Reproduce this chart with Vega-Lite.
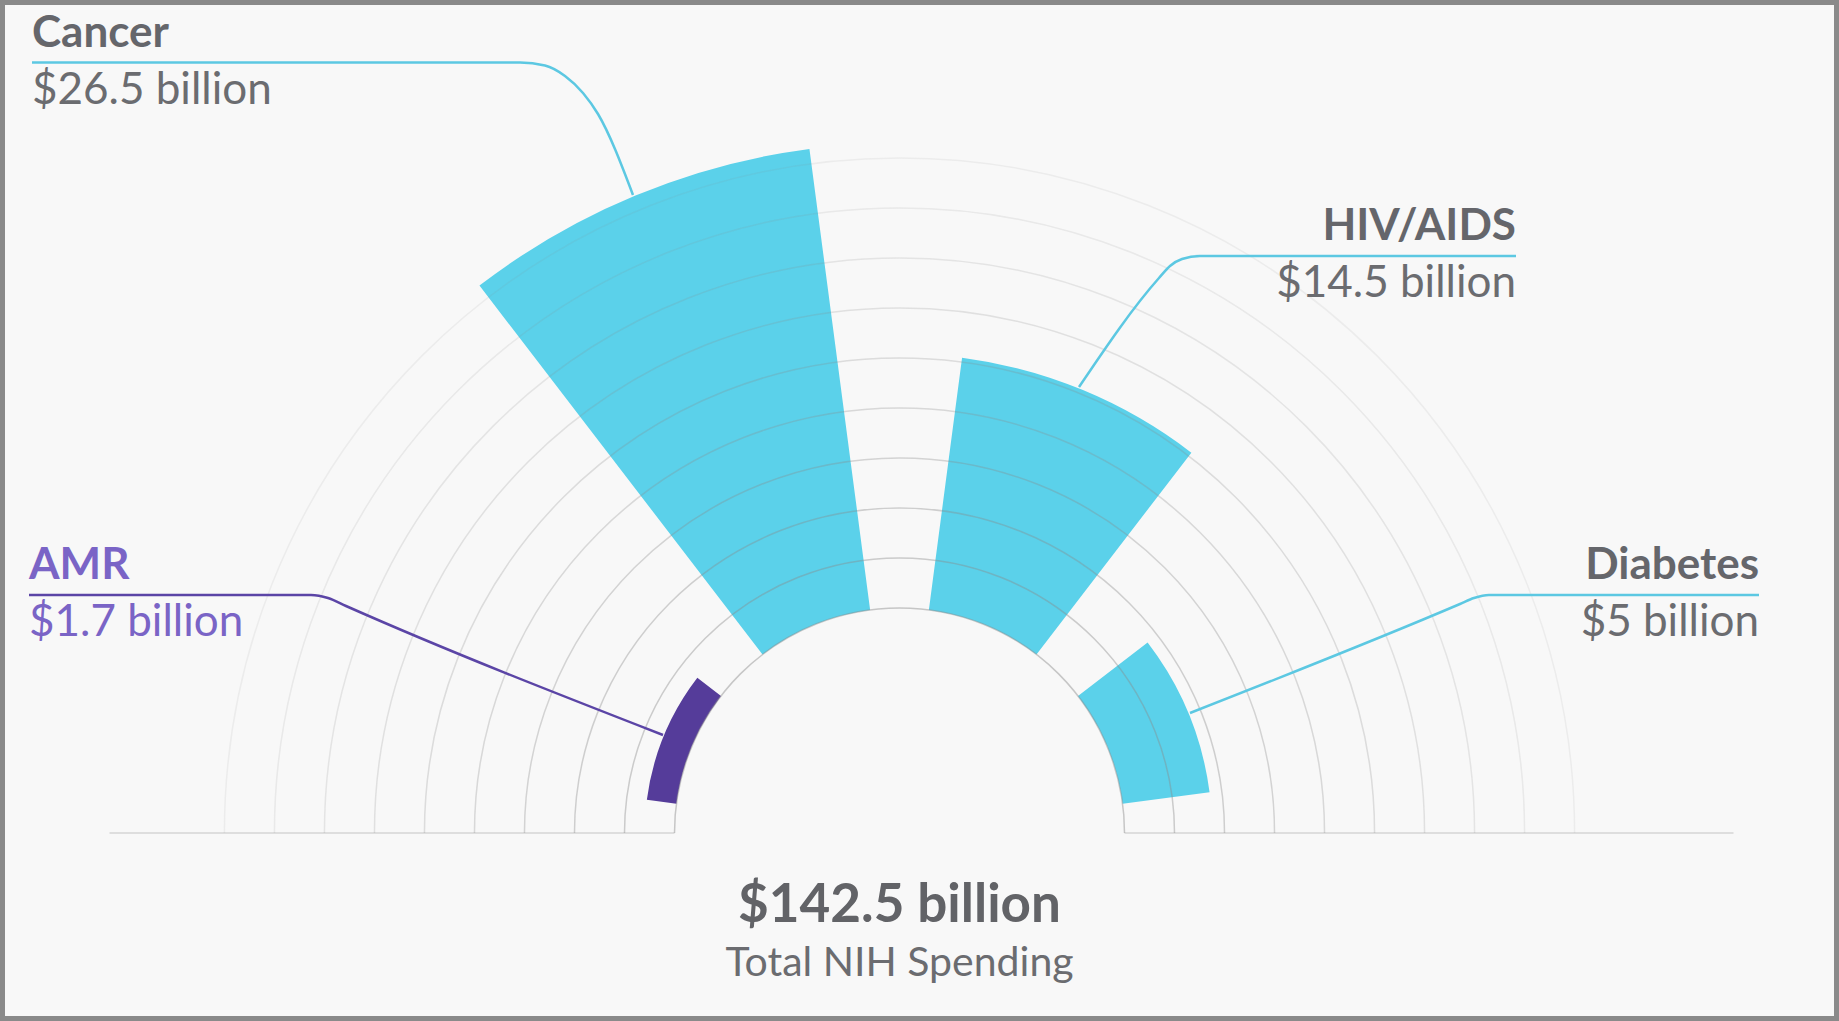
{
  "$schema": "https://vega.github.io/schema/vega-lite/v6.json",
  "width": 1839,
  "height": 1021,
  "autosize": {"type": "fit", "contains": "padding"},
  "padding": 0,
  "background": "#f8f8f8",
  "config": {"view": {"stroke": "#8a8a8a", "strokeWidth": 10}, "font": "Lato"},
  "datasets": {
    "spend": [
      {"category": "AMR", "value": 1.7},
      {"category": "Cancer", "value": 26.5},
      {"category": "HIV/AIDS", "value": 14.5},
      {"category": "Diabetes", "value": 5}
    ],
    "grid": [
      {"r": 0}, {"r": 2.85}, {"r": 5.7}, {"r": 8.55}, {"r": 11.4},
      {"r": 14.25}, {"r": 17.1}, {"r": 19.95}, {"r": 22.8}, {"r": 25.65}
    ],
    "baseline": [
      {"x": -79, "x2": -22.5},
      {"x": 22.5, "x2": 83.4}
    ],
    "leaders": [
      {"category": "Cancer", "x": -86.75, "y": 77.05},
      {"category": "Cancer", "x": -37.95, "y": 77.05},
      {"category": "Cancer", "x": -35.45, "y": 76.75},
      {"category": "Cancer", "x": -33.45, "y": 75.7},
      {"category": "Cancer", "x": -31.65, "y": 74.0},
      {"category": "Cancer", "x": -30.15, "y": 71.9},
      {"category": "Cancer", "x": -26.65, "y": 63.8},
      {"category": "HIV/AIDS", "x": 61.65, "y": 57.7},
      {"category": "HIV/AIDS", "x": 30.05, "y": 57.7},
      {"category": "HIV/AIDS", "x": 28.25, "y": 57.4},
      {"category": "HIV/AIDS", "x": 27.05, "y": 56.7},
      {"category": "HIV/AIDS", "x": 25.95, "y": 55.5},
      {"category": "HIV/AIDS", "x": 17.95, "y": 44.6},
      {"category": "AMR", "x": -87.05, "y": 23.8},
      {"category": "AMR", "x": -58.85, "y": 23.8},
      {"category": "AMR", "x": -57.15, "y": 23.5},
      {"category": "AMR", "x": -55.35, "y": 22.7},
      {"category": "AMR", "x": -23.65, "y": 9.8},
      {"category": "Diabetes", "x": 85.95, "y": 23.8},
      {"category": "Diabetes", "x": 58.95, "y": 23.8},
      {"category": "Diabetes", "x": 57.45, "y": 23.5},
      {"category": "Diabetes", "x": 56.05, "y": 22.9},
      {"category": "Diabetes", "x": 29.05, "y": 12.0}
    ],
    "labels": [
      {"category": "Cancer", "name": "Cancer", "amount": "$26.5 billion", "x": -86.75, "y": 77.05},
      {"category": "HIV/AIDS", "name": "HIV/AIDS", "amount": "$14.5 billion", "x": 61.65, "y": 57.7},
      {"category": "AMR", "name": "AMR", "amount": "$1.7 billion", "x": -87.05, "y": 23.8},
      {"category": "Diabetes", "name": "Diabetes", "amount": "$5 billion", "x": 85.95, "y": 23.8}
    ],
    "total": [
      {"headline": "$142.5 billion", "caption": "Total NIH Spending"}
    ]
  },
  "layer": [
    {
      "data": {"name": "baseline"},
      "mark": {"type": "rule", "color": "#dedede", "strokeWidth": 2},
      "encoding": {
        "x": {"field": "x", "type": "quantitative", "scale": {"domain": [-89.95, 93.95], "nice": false, "zero": false}, "axis": null},
        "x2": {"field": "x2"},
        "y": {"datum": 0, "type": "quantitative", "scale": {"domain": [-18.8, 83.3], "nice": false, "zero": false}, "axis": null}
      }
    },
    {
      "data": {"name": "spend"},
      "mark": {"type": "arc"},
      "encoding": {
        "x": {"datum": 0, "type": "quantitative", "scale": {"domain": [-89.95, 93.95], "nice": false, "zero": false}, "axis": null},
        "y": {"datum": 0, "type": "quantitative", "scale": {"domain": [-18.8, 83.3], "nice": false, "zero": false}, "axis": null},
        "theta": {
          "field": "category", "type": "nominal",
          "sort": ["AMR", "Cancer", "HIV/AIDS", "Diabetes"],
          "scale": {"type": "band", "range": [-1.5708, 1.5708], "paddingInner": 0.3333, "paddingOuter": 0.1667}
        },
        "radius": {"field": "value", "type": "quantitative", "scale": {"type": "linear", "domain": [0, 26.5], "range": [225, 690], "zero": true, "nice": false}},
        "radius2": {"datum": 0},
        "color": {"condition": {"test": "datum.category === 'AMR'", "value": "#553c9a"}, "value": "#5bd1ea"}
      }
    },
    {
      "data": {"name": "grid"},
      "mark": {"type": "arc", "theta": -1.5708, "theta2": 1.5708, "fill": null, "filled": false, "stroke": "#8a8a8a", "strokeWidth": 1.5},
      "encoding": {
        "x": {"datum": 0, "type": "quantitative", "scale": {"domain": [-89.95, 93.95], "nice": false, "zero": false}, "axis": null},
        "y": {"datum": 0, "type": "quantitative", "scale": {"domain": [-18.8, 83.3], "nice": false, "zero": false}, "axis": null},
        "radius": {"field": "r", "type": "quantitative", "scale": {"type": "linear", "domain": [0, 26.5], "range": [225, 690], "zero": true, "nice": false}},
        "radius2": {"field": "r"},
        "strokeOpacity": {"field": "r", "type": "quantitative", "scale": {"domain": [0, 25.65], "range": [0.45, 0.1]}, "legend": null}
      }
    },
    {
      "data": {"name": "leaders"},
      "mark": {"type": "line", "interpolate": "monotone", "strokeWidth": 2.5},
      "encoding": {
        "x": {"field": "x", "type": "quantitative", "scale": {"domain": [-89.95, 93.95], "nice": false, "zero": false}, "axis": null},
        "y": {"field": "y", "type": "quantitative", "scale": {"domain": [-18.8, 83.3], "nice": false, "zero": false}, "axis": null},
        "detail": {"field": "category", "type": "nominal"},
        "color": {"condition": {"test": "datum.category === 'AMR'", "value": "#5b45a6"}, "value": "#5cc8e2"}
      }
    },
    {
      "data": {"name": "labels"},
      "transform": [{"filter": "datum.x < 0"}],
      "mark": {"type": "text", "align": "left", "baseline": "alphabetic", "dy": -16, "fontSize": 44, "fontWeight": "bold"},
      "encoding": {
        "x": {"field": "x", "type": "quantitative", "scale": {"domain": [-89.95, 93.95], "nice": false, "zero": false}, "axis": null},
        "y": {"field": "y", "type": "quantitative", "scale": {"domain": [-18.8, 83.3], "nice": false, "zero": false}, "axis": null},
        "text": {"field": "name"},
        "color": {"condition": {"test": "datum.category === 'AMR'", "value": "#7a64c6"}, "value": "#65666b"}
      }
    },
    {
      "data": {"name": "labels"},
      "transform": [{"filter": "datum.x > 0"}],
      "mark": {"type": "text", "align": "right", "baseline": "alphabetic", "dy": -16, "fontSize": 44, "fontWeight": "bold"},
      "encoding": {
        "x": {"field": "x", "type": "quantitative", "scale": {"domain": [-89.95, 93.95], "nice": false, "zero": false}, "axis": null},
        "y": {"field": "y", "type": "quantitative", "scale": {"domain": [-18.8, 83.3], "nice": false, "zero": false}, "axis": null},
        "text": {"field": "name"},
        "color": {"value": "#65666b"}
      }
    },
    {
      "data": {"name": "labels"},
      "transform": [{"filter": "datum.x < 0"}],
      "mark": {"type": "text", "align": "left", "baseline": "alphabetic", "dy": 41, "fontSize": 44, "fontWeight": "normal"},
      "encoding": {
        "x": {"field": "x", "type": "quantitative", "scale": {"domain": [-89.95, 93.95], "nice": false, "zero": false}, "axis": null},
        "y": {"field": "y", "type": "quantitative", "scale": {"domain": [-18.8, 83.3], "nice": false, "zero": false}, "axis": null},
        "text": {"field": "amount"},
        "color": {"condition": {"test": "datum.category === 'AMR'", "value": "#7a64c6"}, "value": "#6b6c70"}
      }
    },
    {
      "data": {"name": "labels"},
      "transform": [{"filter": "datum.x > 0"}],
      "mark": {"type": "text", "align": "right", "baseline": "alphabetic", "dy": 41, "fontSize": 44, "fontWeight": "normal"},
      "encoding": {
        "x": {"field": "x", "type": "quantitative", "scale": {"domain": [-89.95, 93.95], "nice": false, "zero": false}, "axis": null},
        "y": {"field": "y", "type": "quantitative", "scale": {"domain": [-18.8, 83.3], "nice": false, "zero": false}, "axis": null},
        "text": {"field": "amount"},
        "color": {"value": "#6b6c70"}
      }
    },
    {
      "data": {"name": "total"},
      "mark": {"type": "text", "align": "center", "baseline": "alphabetic", "fontSize": 53, "fontWeight": "bold", "color": "#626367"},
      "encoding": {
        "x": {"datum": 0, "type": "quantitative", "scale": {"domain": [-89.95, 93.95], "nice": false, "zero": false}, "axis": null},
        "y": {"datum": -8.9, "type": "quantitative", "scale": {"domain": [-18.8, 83.3], "nice": false, "zero": false}, "axis": null},
        "text": {"field": "headline"}
      }
    },
    {
      "data": {"name": "total"},
      "mark": {"type": "text", "align": "center", "baseline": "alphabetic", "fontSize": 41, "fontWeight": "normal", "color": "#6b6c70"},
      "encoding": {
        "x": {"datum": 0, "type": "quantitative", "scale": {"domain": [-89.95, 93.95], "nice": false, "zero": false}, "axis": null},
        "y": {"datum": -14.3, "type": "quantitative", "scale": {"domain": [-18.8, 83.3], "nice": false, "zero": false}, "axis": null},
        "text": {"field": "caption"}
      }
    }
  ]
}
